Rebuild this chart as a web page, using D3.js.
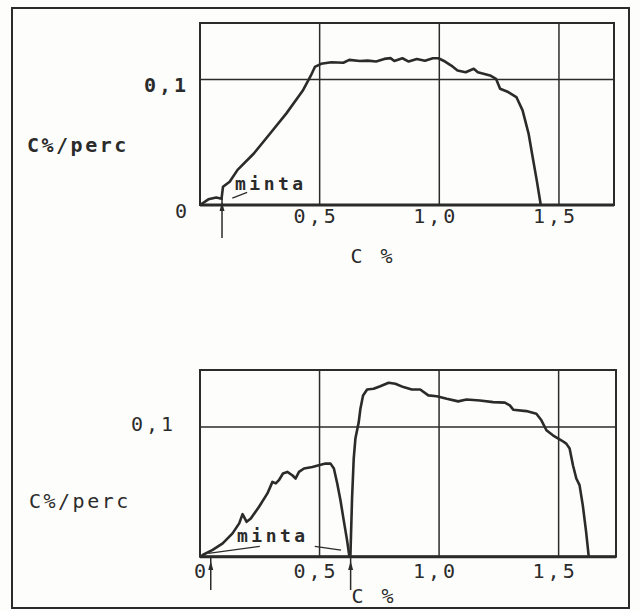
<!DOCTYPE html>
<html>
<head>
<meta charset="utf-8">
<script src="https://cdn.jsdelivr.net/npm/d3@7"></script>
<style>
  body { margin: 0; background: #fdfdfb; }
  text { font-family: "DejaVu Sans Mono", "Liberation Mono", monospace; fill: #2b2b2b; }
</style>
</head>
<body>
<script>
// x tick values (C %) and y tick value (C%/perc)
const xTicks = [0.5, 1.0, 1.5];
const yTicks = [0.1];

// upper panel: one sample
const topCurve = [
  [0.0,0.0],[0.035,0.0045],[0.068,0.006],[0.09,0.005],[0.096,0.0145],[0.124,0.0185],[0.157,0.028],
  [0.225,0.041],[0.293,0.057],[0.361,0.073],[0.429,0.091],[0.463,0.103],[0.48,0.11],[0.506,0.1125],
  [0.549,0.1137],[0.599,0.1133],[0.624,0.1156],[0.668,0.1147],[0.701,0.115],[0.736,0.1143],
  [0.77,0.1164],[0.796,0.117],[0.812,0.1147],[0.846,0.1169],[0.872,0.1143],[0.906,0.1163],
  [0.94,0.115],[0.973,0.1169],[0.996,0.1169],[1.024,0.1143],[1.05,0.1111],[1.076,0.1071],
  [1.11,0.1058],[1.144,0.1085],[1.161,0.1058],[1.212,0.1032],[1.237,0.1005],[1.254,0.0926],
  [1.288,0.09],[1.322,0.086],[1.348,0.0754],[1.373,0.0569],[1.39,0.0383],[1.407,0.0198],[1.424,0]
];

// lower panel: two overlapping peaks
const lowCurveA = [
  [0.005,0.0],[0.011,0.0013],[0.053,0.0052],[0.095,0.0103],[0.136,0.018],[0.164,0.0257],[0.178,0.0328],
  [0.195,0.0269],[0.2125,0.0295],[0.247,0.0385],[0.282,0.0488],[0.303,0.0577],[0.317,0.0565],
  [0.33,0.059],[0.347,0.0642],[0.365,0.0654],[0.386,0.0628],[0.4,0.0603],[0.414,0.0654],
  [0.435,0.068],[0.47,0.0692],[0.497,0.0705],[0.525,0.0718],[0.546,0.0718],[0.56,0.068],
  [0.574,0.0565],[0.5875,0.0436],[0.601,0.0282],[0.615,0.0128],[0.625,0]
];
const lowCurveB = [
  [0.629,0],[0.632,0.0192],[0.636,0.0449],[0.643,0.0757],[0.65,0.0911],[0.664,0.1038],[0.671,0.1142],
  [0.682,0.1244],[0.699,0.129],[0.726,0.1295],[0.754,0.1315],[0.789,0.1342],[0.817,0.1334],
  [0.851,0.1308],[0.886,0.129],[0.921,0.129],[0.955,0.1244],[0.99,0.1238],[1.032,0.1218],
  [1.08,0.1198],[1.115,0.1213],[1.171,0.1205],[1.226,0.1192],[1.275,0.1188],[1.296,0.1167],
  [1.31,0.1134],[1.365,0.1123],[1.407,0.1103],[1.428,0.1052],[1.449,0.0975],[1.476,0.0936],
  [1.511,0.0898],[1.532,0.0872],[1.546,0.0834],[1.56,0.0705],[1.574,0.0603],[1.5875,0.0552],
  [1.601,0.0398],[1.615,0.0192],[1.626,0]
];

const ink = "#2b2b2b";
const fmt = d => d3.format(".1f")(d).replace(".", ",");

const svg = d3.select("body").append("svg")
    .attr("width", 640).attr("height", 611);

svg.append("rect")
    .attr("x", 12).attr("y", 8).attr("width", 617).attr("height", 600)
    .attr("fill", "none").attr("stroke", ink).attr("stroke-width", 2);

const panels = [
  {curves: [topCurve], xMax: 1.73, yMax: 0.145, left: 200, right: 614, top: 23, bottom: 205,
   y01: [189, 92], zero: [175, 218], tickY: 223, cx: [373, 263], lab: [27, 152], labW: "bold",
   markers: [0.092], markTop: 197, markBot: 238, minta: [235, 190],
   leaders: [[0.135, 0.0055, 0.197, 0.010]]},
  {curves: [lowCurveA, lowCurveB], xMax: 1.74, yMax: 0.144, left: 200, right: 616, top: 370, bottom: 556.7,
   y01: [176, 431], zero: [194, 578], tickY: 578, cx: [374, 603], lab: [29, 508], labW: "normal",
   markers: [0.045, 0.63], markTop: 556, markBot: 590, minta: [237, 542],
   leaders: [[0.035, 0.0026, 0.25, 0.008], [0.48, 0.008, 0.59, 0.005]]}
];

panels.forEach(p => {
  const x = d3.scaleLinear().domain([0, p.xMax]).range([p.left, p.right]);
  const y = d3.scaleLinear().domain([0, p.yMax]).range([p.bottom, p.top]);
  const g = svg.append("g");

  // grid
  g.selectAll(".vg").data(xTicks).join("line")
      .attr("x1", d => x(d)).attr("x2", d => x(d))
      .attr("y1", p.top).attr("y2", p.bottom)
      .attr("stroke", ink).attr("stroke-width", 1.5);
  g.selectAll(".hg").data(yTicks).join("line")
      .attr("x1", p.left).attr("x2", p.right)
      .attr("y1", d => y(d)).attr("y2", d => y(d))
      .attr("stroke", ink).attr("stroke-width", 1.5);

  // frame
  g.append("rect")
      .attr("x", p.left).attr("y", p.top)
      .attr("width", p.right - p.left).attr("height", p.bottom - p.top)
      .attr("fill", "none").attr("stroke", ink).attr("stroke-width", 2);
  g.append("line")
      .attr("x1", p.left).attr("x2", p.right).attr("y1", p.bottom).attr("y2", p.bottom)
      .attr("stroke", ink).attr("stroke-width", 3);

  // curves
  const line = d3.line().x(d => x(d[0])).y(d => y(d[1]));
  p.curves.forEach(c => {
    g.append("path").datum(c).attr("d", line)
        .attr("fill", "none").attr("stroke", ink)
        .attr("stroke-width", 2.6).attr("stroke-linejoin", "round");
  });

  // x tick labels
  const ax = g.append("g").attr("transform", `translate(-4,${p.tickY - 15})`)
      .call(d3.axisBottom(x).tickValues(xTicks).tickSize(0).tickFormat(fmt));
  ax.select(".domain").remove();
  ax.selectAll("text").attr("dy", 0).attr("y", 15)
      .style("font-family", '"DejaVu Sans Mono", monospace')
      .style("font-size", "20px").style("letter-spacing", "3px")
      .style("fill", ink);

  // y tick label
  g.selectAll(".yl").data(yTicks).join("text")
      .attr("x", p.y01[0]).attr("y", p.y01[1])
      .attr("text-anchor", "end")
      .style("font-size", "20px").style("letter-spacing", "3px").style("font-weight", p.labW)
      .text(fmt);
  g.append("text").attr("x", p.zero[0]).attr("y", p.zero[1])
      .style("font-size", "20px").text("0");

  // axis titles
  g.append("text").attr("x", p.cx[0]).attr("y", p.cx[1]).attr("text-anchor", "middle")
      .style("font-size", "20px").style("letter-spacing", "3px").text("C %");
  g.append("text").attr("x", p.lab[0]).attr("y", p.lab[1])
      .style("font-size", "20px").style("letter-spacing", "2.5px").style("font-weight", p.labW)
      .text("C%/perc");

  // sample markers
  p.markers.forEach(m => {
    g.append("line").attr("x1", x(m)).attr("x2", x(m))
        .attr("y1", p.markTop).attr("y2", p.markBot)
        .attr("stroke", ink).attr("stroke-width", 1.5);
    const ay = p.markTop + 5;
    g.append("path")
        .attr("d", `M${x(m)},${ay} L${x(m) - 2.5},${ay + 9} L${x(m) + 2.5},${ay + 9} Z`)
        .attr("fill", ink);
  });
  g.append("text").attr("x", p.minta[0]).attr("y", p.minta[1])
      .style("font-size", "18px").style("font-weight", "bold").style("letter-spacing", "3.5px")
      .text("minta");
  p.leaders.forEach(l => {
    g.append("line")
        .attr("x1", x(l[0])).attr("y1", y(l[1])).attr("x2", x(l[2])).attr("y2", y(l[3]))
        .attr("stroke", ink).attr("stroke-width", 1.3);
  });
});
</script>
</body>
</html>
